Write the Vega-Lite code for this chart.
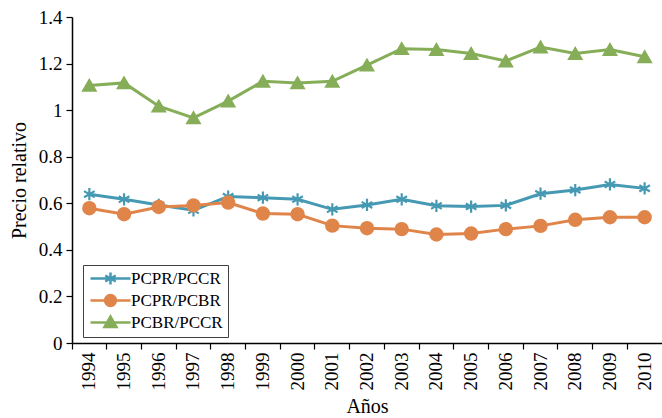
{
  "$schema": "https://vega.github.io/schema/vega-lite/v6.json",
  "autosize": {"type": "none"},
  "padding": {"left": 72, "top": 17, "right": 0, "bottom": 75},
  "width": 590,
  "height": 326,
  "background": "white",
  "config": {
    "view": {"stroke": null},
    "font": "Liberation Serif",
    "axis": {"domainColor": "black", "tickColor": "black", "labelColor": "black", "titleColor": "black", "labelFont": "Liberation Serif", "titleFont": "Liberation Serif", "titleFontWeight": "normal", "domainWidth": 1.5, "tickWidth": 1.2},
    "legend": {"title": null, "orient": "none", "legendX": 11, "legendY": 248, "direction": "vertical", "padding": 5, "strokeColor": "#404040", "fillColor": "white", "labelFont": "Liberation Serif", "labelFontSize": 17, "labelColor": "black", "labelOffset": 26, "symbolSize": 144, "rowPadding": 0, "symbolStrokeWidth": 2.5, "symbolOpacity": 1}
  },
  "data": {"values": [
    {"year": "1994", "series": "PCPR/PCCR", "v": 0.639},
    {"year": "1995", "series": "PCPR/PCCR", "v": 0.617},
    {"year": "1996", "series": "PCPR/PCCR", "v": 0.593},
    {"year": "1997", "series": "PCPR/PCCR", "v": 0.570},
    {"year": "1998", "series": "PCPR/PCCR", "v": 0.629},
    {"year": "1999", "series": "PCPR/PCCR", "v": 0.624},
    {"year": "2000", "series": "PCPR/PCCR", "v": 0.617},
    {"year": "2001", "series": "PCPR/PCCR", "v": 0.574},
    {"year": "2002", "series": "PCPR/PCCR", "v": 0.593},
    {"year": "2003", "series": "PCPR/PCCR", "v": 0.617},
    {"year": "2004", "series": "PCPR/PCCR", "v": 0.589},
    {"year": "2005", "series": "PCPR/PCCR", "v": 0.586},
    {"year": "2006", "series": "PCPR/PCCR", "v": 0.591},
    {"year": "2007", "series": "PCPR/PCCR", "v": 0.641},
    {"year": "2008", "series": "PCPR/PCCR", "v": 0.657},
    {"year": "2009", "series": "PCPR/PCCR", "v": 0.681},
    {"year": "2010", "series": "PCPR/PCCR", "v": 0.664},
    {"year": "1994", "series": "PCPR/PCBR", "v": 0.579},
    {"year": "1995", "series": "PCPR/PCBR", "v": 0.553},
    {"year": "1996", "series": "PCPR/PCBR", "v": 0.584},
    {"year": "1997", "series": "PCPR/PCBR", "v": 0.591},
    {"year": "1998", "series": "PCPR/PCBR", "v": 0.603},
    {"year": "1999", "series": "PCPR/PCBR", "v": 0.556},
    {"year": "2000", "series": "PCPR/PCBR", "v": 0.553},
    {"year": "2001", "series": "PCPR/PCBR", "v": 0.504},
    {"year": "2002", "series": "PCPR/PCBR", "v": 0.493},
    {"year": "2003", "series": "PCPR/PCBR", "v": 0.489},
    {"year": "2004", "series": "PCPR/PCBR", "v": 0.466},
    {"year": "2005", "series": "PCPR/PCBR", "v": 0.470},
    {"year": "2006", "series": "PCPR/PCBR", "v": 0.489},
    {"year": "2007", "series": "PCPR/PCBR", "v": 0.503},
    {"year": "2008", "series": "PCPR/PCBR", "v": 0.529},
    {"year": "2009", "series": "PCPR/PCBR", "v": 0.540},
    {"year": "2010", "series": "PCPR/PCBR", "v": 0.540},
    {"year": "1994", "series": "PCBR/PCCR", "v": 1.106},
    {"year": "1995", "series": "PCBR/PCCR", "v": 1.117},
    {"year": "1996", "series": "PCBR/PCCR", "v": 1.017},
    {"year": "1997", "series": "PCBR/PCCR", "v": 0.967},
    {"year": "1998", "series": "PCBR/PCCR", "v": 1.039},
    {"year": "1999", "series": "PCBR/PCCR", "v": 1.124},
    {"year": "2000", "series": "PCBR/PCCR", "v": 1.117},
    {"year": "2001", "series": "PCBR/PCCR", "v": 1.124},
    {"year": "2002", "series": "PCBR/PCCR", "v": 1.193},
    {"year": "2003", "series": "PCBR/PCCR", "v": 1.264},
    {"year": "2004", "series": "PCBR/PCCR", "v": 1.260},
    {"year": "2005", "series": "PCBR/PCCR", "v": 1.243},
    {"year": "2006", "series": "PCBR/PCCR", "v": 1.211},
    {"year": "2007", "series": "PCBR/PCCR", "v": 1.271},
    {"year": "2008", "series": "PCBR/PCCR", "v": 1.243},
    {"year": "2009", "series": "PCBR/PCCR", "v": 1.260},
    {"year": "2010", "series": "PCBR/PCCR", "v": 1.229}
  ]},
  "encoding": {
    "x": {"field": "year", "type": "ordinal", "bandPosition": 0.5,
      "scale": {"type": "band", "paddingInner": 0, "paddingOuter": 0},
      "axis": {"title": "Años", "bandPosition": 0, "labelAngle": -90, "labelFontSize": 19, "titleFontSize": 20, "tickSize": 6, "labelPadding": 3, "titlePadding": 6}},
    "y": {"field": "v", "type": "quantitative",
      "scale": {"domain": [0, 1.4], "nice": false, "zero": true},
      "axis": {"title": "Precio relativo", "values": [0, 0.2, 0.4, 0.6, 0.8, 1, 1.2, 1.4], "format": ".1~f", "grid": false, "labelFontSize": 19, "titleFontSize": 20, "tickSize": 6, "labelPadding": 4, "titlePadding": 9}}
  },
  "layer": [
    {"mark": {"type": "line", "strokeWidth": 3},
      "encoding": {
        "color": {"field": "series", "type": "nominal", "legend": null,
          "scale": {"domain": ["PCPR/PCCR", "PCPR/PCBR", "PCBR/PCCR"], "range": ["#4599b3", "#e0854a", "#86ad58"]}}
      }},
    {"mark": {"type": "point", "filled": true, "size": 150, "strokeWidth": 2.2, "opacity": 1},
      "encoding": {
        "color": {"field": "series", "type": "nominal", "legend": null,
          "scale": {"domain": ["PCPR/PCCR", "PCPR/PCBR", "PCBR/PCCR"], "range": ["#4599b3", "#e0854a", "#86ad58"]}},
        "shape": {"field": "series", "type": "nominal", "legend": null,
          "scale": {"domain": ["PCPR/PCCR", "PCPR/PCBR", "PCBR/PCCR"], "range": ["M0,-1V1M-0.866,-0.5L0.866,0.5M-0.866,0.5L0.866,-0.5", "circle", "triangle-up"]}},
        "stroke": {"field": "series", "type": "nominal", "legend": null,
          "scale": {"domain": ["PCPR/PCCR", "PCPR/PCBR", "PCBR/PCCR"], "range": ["#4599b3", "#e0854a", "#86ad58"]}}
      }},
    {"mark": {"type": "point", "filled": true, "size": 144, "strokeWidth": 2.5, "opacity": 0},
      "encoding": {
        "color": {"field": "series", "type": "nominal",
          "scale": {"domain": ["PCPR/PCCR", "PCPR/PCBR", "PCBR/PCCR"], "range": ["#4599b3", "#e0854a", "#86ad58"]}},
        "shape": {"field": "series", "type": "nominal",
          "scale": {"domain": ["PCPR/PCCR", "PCPR/PCBR", "PCBR/PCCR"], "range": ["M-1,0H5.667M2.333,-1V1M1.467,-0.5L3.199,0.5M1.467,0.5L3.199,-0.5", "M-1,0H5.667M3.233,0A0.9,0.9 0 1,1 1.433,0A0.9,0.9 0 1,1 3.233,0Z", "M-1,0H5.667M2.333,-1L3.333,0.75L1.333,0.75Z"]}},
        "stroke": {"field": "series", "type": "nominal",
          "scale": {"domain": ["PCPR/PCCR", "PCPR/PCBR", "PCBR/PCCR"], "range": ["#4599b3", "#e0854a", "#86ad58"]}}
      }}
  ],
  "resolve": {
    "scale": {"color": "independent", "shape": "independent", "stroke": "independent"},
    "legend": {"color": "independent", "shape": "independent", "stroke": "independent"}
  }
}
